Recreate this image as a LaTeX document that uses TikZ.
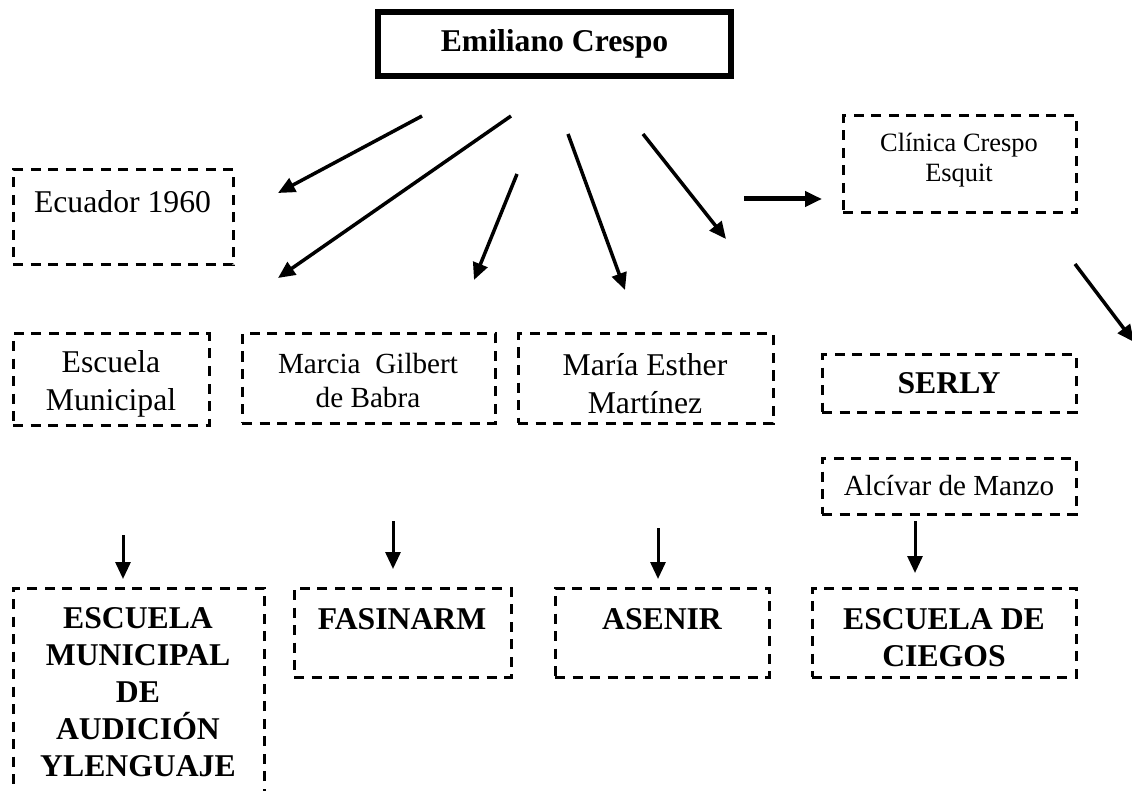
\documentclass[tikz,border=0pt]{standalone}
\usepackage{fontspec}
\setmainfont{Liberation Serif}
\usepackage{tikz}
\usetikzlibrary{arrows.meta}

\begin{document}
\begin{tikzpicture}[x=1pt, y=-1pt,
	dbox/.style={draw, line width=3pt, dash pattern=on 10pt off 7.5pt, inner sep=0pt},
	arr/.style={line width=3.5pt, -{Triangle[length=17pt, width=15pt]}},
	big/.style={font=\fontsize{31.7}{37}\selectfont, align=center},
	bigb/.style={font=\fontsize{31.7}{37}\selectfont\bfseries, align=center}]
	\useasboundingbox (0,0) rectangle (1132,791);
	\clip (0,0) rectangle (1132,791);
	% top box
	\node[draw, line width=6pt, inner sep=0pt, minimum width=353pt, minimum height=64pt, bigb] (emiliano) at (554.5,44) {Emiliano Crespo};
	% first row
	\node[dbox, minimum width=220pt, minimum height=95pt] (ecuador) at (123,217.5) {};
	\node[big] (ecuadortxt) at (122.5,202) {Ecuador 1960};
	\node[dbox, minimum width=233pt, minimum height=97pt] (clinica) at (959.5,164.5) {};
	\node[font=\fontsize{26.4}{30}\selectfont, align=center] (clinicatxt) at (959,160) {Clínica Crespo\\Esquit};
	% second row
	\node[dbox, minimum width=196pt, minimum height=91pt] (escmun) at (111,379.5) {};
	\node[big, font=\fontsize{31.7}{38}\selectfont] (escmuntxt) at (111,384) {Escuela\\Municipal};
	\node[dbox, minimum width=253pt, minimum height=89pt] (marcia) at (368.5,378.5) {};
	\node[font=\fontsize{29.2}{34}\selectfont, align=center] (marciatxt) at (368,381) {Marcia\ \ Gilbert\\de Babra};
	\node[dbox, minimum width=255pt, minimum height=89pt] (maria) at (645.5,378.5) {};
	\node[big, font=\fontsize{31.7}{38}\selectfont] (mariatxt) at (645,384) {María Esther\\Martínez};
	\node[dbox, minimum width=254pt, minimum height=57pt, bigb] (serly) at (949,383.5) {SERLY};
	\node[dbox, minimum width=254pt, minimum height=56pt, font=\fontsize{29.1}{34}\selectfont] (alcivar) at (949,486) {Alcívar de Manzo};
	% bottom row
	\node[dbox, minimum width=251pt, minimum height=222pt] (escaud) at (138.5,699) {};
	\node[bigb] (escaudtxt) at (138,692.5) {ESCUELA\\MUNICIPAL\\DE\\AUDICIÓN\\YLENGUAJE};
	\node[dbox, minimum width=217pt, minimum height=89pt] (fasinarm) at (402.5,632.5) {};
	\node[bigb] (fasinarmtxt) at (402,619) {FASINARM};
	\node[dbox, minimum width=214pt, minimum height=89pt] (asenir) at (662,632.5) {};
	\node[bigb] (asenirtxt) at (662,619) {ASENIR};
	\node[dbox, minimum width=264pt, minimum height=89pt] (ciegos) at (944,632.5) {};
	\node[bigb] (ciegostxt) at (944,637.5) {ESCUELA DE\\CIEGOS};
	% arrow ends
	\coordinate (a1-s) at (422,116); \coordinate (a1-e) at (278,193);
	\coordinate (a2-s) at (511,116); \coordinate (a2-e) at (278,278);
	\coordinate (a3-s) at (517,174); \coordinate (a3-e) at (474,280);
	\coordinate (a4-s) at (568,134); \coordinate (a4-e) at (625,290);
	\coordinate (a5-s) at (643,134); \coordinate (a5-e) at (726,239);
	\coordinate (a7-s) at (1075,264); \coordinate (a7-e) at (1134,342);
	\coordinate (b1-s) at (123,535); \coordinate (b1-e) at (123,579);
	\coordinate (b2-s) at (393,521); \coordinate (b2-e) at (393,569);
	\coordinate (b3-s) at (658,528); \coordinate (b3-e) at (658,579);
	\coordinate (b4-s) at (915,521); \coordinate (b4-e) at (915,573);
	\coordinate (a6-s) at (744,199); \coordinate (a6-e) at (822,199);
	\foreach \n in {a1,a2,a3,a4,a5,a7}
		\draw[arr] (\n-s) -- (\n-e);
	\foreach \n in {b1,b2,b3,b4}
		\draw[arr, line width=3pt] (\n-s) -- (\n-e);
	\draw[arr, line width=5pt] (a6-s) -- (a6-e);
\end{tikzpicture}
\end{document}
